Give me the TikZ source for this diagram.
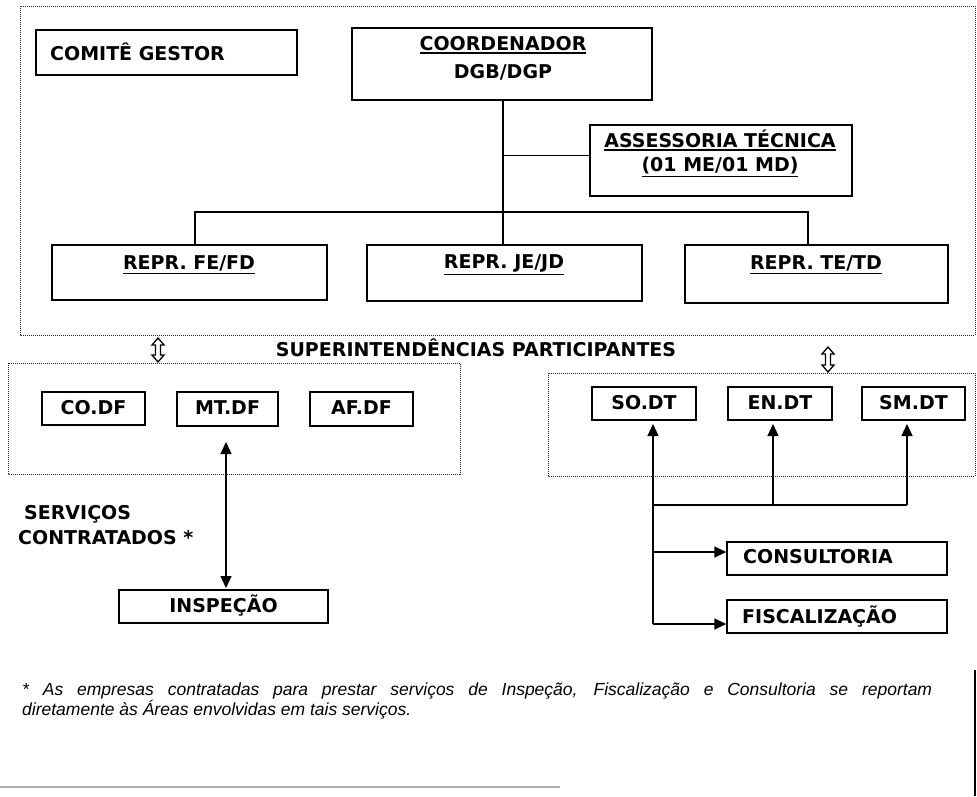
\documentclass[tikz,border=0pt]{standalone}
\usepackage{fontspec}
\setmainfont{DejaVu Sans}
\newfontfamily\fnfont{Liberation Sans}
\usetikzlibrary{arrows.meta}
\newcommand\myul[1]{\leavevmode\vtop{\hbox{#1}\kern1.8pt\hrule height 1.5pt}}
\begin{document}
\begin{tikzpicture}[x=1pt,y=-1pt,
 box/.style={draw,line width=1.4pt,inner sep=0pt},
 lab/.style={font=\fontsize{19}{21}\selectfont\bfseries,inner sep=0pt},
 dotbox/.style={draw=black!85,densely dotted,line width=1pt},
 link/.style={line width=1.4pt},
 arr/.style={line width=1.4pt,-{Triangle[length=12pt,width=11pt]}},
 darr/.style={line width=1.4pt,{Triangle[length=12pt,width=11pt]}-{Triangle[length=12pt,width=11pt]}},
 hollow/.style={draw,line width=1.3pt,fill=white}]
\useasboundingbox (0,0) rectangle (977,796);
\fill[white] (0,0) rectangle (977,796);

% dotted frames
\draw[dotbox] (20,6) rectangle (975,335);
\draw[dotbox] (8,363) rectangle (460,474);
\draw[dotbox] (548,373) rectangle (975,476);

% top level boxes
\node[box,minimum width=261pt,minimum height=45pt] (comite) at (166.5,52.5) {};
\node[lab,anchor=west] (comiteT) at (50,52) {COMITÊ GESTOR};

\node[box,minimum width=300pt,minimum height=72pt] (coord) at (502,64) {};
\node[lab] (coordT1) at (503,45) {\myul{COORDENADOR}};
\node[lab] (coordT2) at (503,72) {DGB/DGP};

\node[box,minimum width=262pt,minimum height=71pt] (asses) at (721,160.5) {};
\node[lab] (assesT1) at (720,140) {\myul{ASSESSORIA TÉCNICA}};
\node[lab] (assesT2) at (720,167) {\myul{(01 ME/01 MD)}};

\node[box,minimum width=275pt,minimum height=55pt] (fe) at (189.5,272.5) {};
\node[lab] (feT) at (189,265) {\myul{REPR. FE/FD}};
\node[box,minimum width=275pt,minimum height=56pt] (je) at (504.5,273) {};
\node[lab] (jeT) at (504,265) {\myul{REPR. JE/JD}};
\node[box,minimum width=263pt,minimum height=58pt] (te) at (816.5,274) {};
\node[lab] (teT) at (816,265) {\myul{REPR. TE/TD}};

% top connectors
\coordinate (bus) at (503,212);
\draw[link] (coord.south -| bus) -- (je.north -| bus);
\draw[link] (503,155.5) -- (asses.west |- 0,155.5);
\draw[link] ([xshift=5.5pt]fe.north) |- (bus) -| ([xshift=-8.5pt]te.north);

% superintendencias
\node[lab] (sup) at (476,348) {SUPERINTENDÊNCIAS PARTICIPANTES};

% hollow double arrows
\draw[hollow] (158,338) -- ++(6,7) -- ++(-3.5,0) -- ++(0,10) -- ++(3.5,0) -- ++(-6,7) -- ++(-6,-7) -- ++(3.5,0) -- ++(0,-10) -- ++(-3.5,0) -- cycle;
\draw[hollow] (828,347) -- ++(6,7) -- ++(-3.5,0) -- ++(0,11) -- ++(3.5,0) -- ++(-6,7) -- ++(-6,-7) -- ++(3.5,0) -- ++(0,-11) -- ++(-3.5,0) -- cycle;

% DF boxes
\node[box,minimum width=103pt,minimum height=33pt] (codf) at (93.5,408.5) {};
\node[lab] (codfT) at (93.5,408) {CO.DF};
\node[box,minimum width=101pt,minimum height=34pt] (mtdf) at (227.5,409) {};
\node[lab] (mtdfT) at (227.5,408) {MT.DF};
\node[box,minimum width=103pt,minimum height=34pt] (afdf) at (361.5,409) {};
\node[lab] (afdfT) at (361.5,408) {AF.DF};

% DT boxes
\node[box,minimum width=104pt,minimum height=33pt] (sodt) at (644,403.5) {};
\node[lab] (sodtT) at (644,403) {SO.DT};
\node[box,minimum width=104pt,minimum height=33pt] (endt) at (780,403.5) {};
\node[lab] (endtT) at (780,403) {EN.DT};
\node[box,minimum width=103pt,minimum height=33pt] (smdt) at (913.5,403.5) {};
\node[lab] (smdtT) at (913.5,403) {SM.DT};

% servicos contratados
\node[lab,anchor=west] (serv1) at (24,514) {SERVIÇOS};
\node[lab,anchor=west] (serv2) at (18,538) {CONTRATADOS *};

% inspecao
\node[box,minimum width=209pt,minimum height=33pt] (insp) at (223.5,606.5) {};
\node[lab] (inspT) at (223.5,606) {INSPEÇÃO};
\coordinate (mtup) at (226,442);
\coordinate (mtdn) at (226,588);
\draw[darr] (mtup) -- (mtdn);

% consultoria / fiscalizacao
\node[box,minimum width=220pt,minimum height=33pt] (cons) at (837,558.5) {};
\node[lab,anchor=west] (consT) at (743,557) {CONSULTORIA};
\node[box,minimum width=220pt,minimum height=33pt] (fisc) at (837,616.5) {};
\node[lab,anchor=west] (fiscT) at (742,617) {FISCALIZAÇÃO};

\coordinate (t1) at (653,505);
\coordinate (t2) at (653,552);
\coordinate (t3) at (653,624);
\coordinate (sotip) at (653,424);
\coordinate (entip) at (773,424);
\coordinate (smtip) at (907,424);
\draw[arr] (t3) -- (sotip);
\draw[link] (t1) -- (t1 -| smtip);
\draw[arr] (t1 -| entip) -- (entip);
\draw[arr] (t1 -| smtip) -- (smtip);
\draw[arr] (t2) -- (t2 -| cons.west);
\draw[arr] (t3) -- (t3 -| fisc.west);

% footnote
\node[font=\fnfont\itshape\fontsize{17.5}{18}\selectfont,text width=910pt,align=justify,anchor=north west,inner sep=0pt] (foot) at (22,683)
 {* As empresas contratadas para prestar serviços de Inspeção, Fiscalização e Consultoria se reportam\linebreak diretamente às Áreas envolvidas em tais serviços.};

% scan edges
\draw[line width=1.5pt] (975,670) -- (975,796);
\draw[line width=1.5pt,gray!60] (0,787) -- (560,787);
\end{tikzpicture}
\end{document}
